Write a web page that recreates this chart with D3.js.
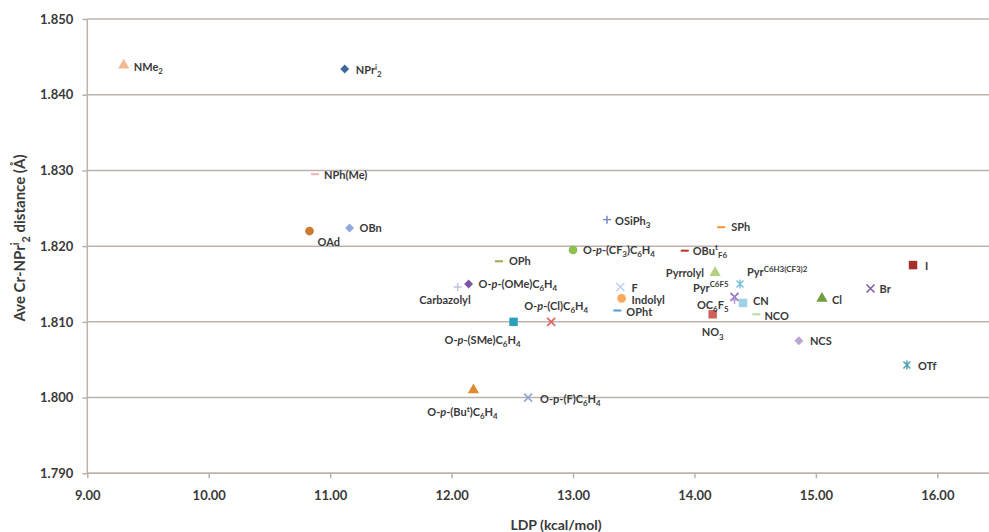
<!DOCTYPE html>
<html>
<head>
<meta charset="utf-8">
<script src="https://cdn.jsdelivr.net/npm/d3@7"></script>
<style>
html,body{margin:0;padding:0;background:#fff;}
svg{display:block;font-family:Lato,"Open Sans",sans-serif;}
</style>
</head>
<body>
<svg id="chart" width="989" height="532"></svg>
<script>
// ---- data ----
const ligands = ["NMe2","NPri2","NPh(Me)","OAd","OBn","OPh","O-p-(OMe)C6H4","Carbazolyl",
  "O-p-(Cl)C6H4","O-p-(SMe)C6H4","O-p-(CF3)C6H4","OSiPh3","SPh","OBut F6","Pyrrolyl",
  "Pyr C6H3(CF3)2","Pyr C6F5","OC6F5","CN","NO3","NCO","Cl","Br","I","F","Indolyl","OPht",
  "NCS","OTf","O-p-(F)C6H4","O-p-(But)C6H4"];
const ldp = [9.30,11.12,10.875,10.83,11.16,12.39,12.14,12.05,
  12.82,12.51,13.00,13.28,14.22,13.92,14.17,
  14.375,14.33,14.33,14.40,14.15,14.51,15.05,15.45,15.80,13.39,13.40,13.365,
  14.86,15.75,12.63,12.18];
const crN = [1.8439,1.8434,1.8295,1.8220,1.8224,1.8180,1.8150,1.8146,
  1.8100,1.8100,1.8195,1.8235,1.8225,1.8194,1.8165,
  1.8150,1.8133,1.8129,1.8125,1.8110,1.8110,1.8131,1.8144,1.8175,1.8146,1.8131,1.8115,
  1.8075,1.8043,1.8000,1.8010];
// label markup: |s:x| subscript, |u:x| superscript, |i:x| italic
const labelMarkup = ["NMe|s:2","NPr|u:i|s:2","NPh(Me)","OAd","OBn","OPh","O-|i:p|-(OMe)C|s:6|H|s:4","Carbazolyl",
  "O-|i:p|-(Cl)C|s:6|H|s:4","O-|i:p|-(SMe)C|s:6|H|s:4","O-|i:p|-(CF|s:3|)C|s:6|H|s:4","OSiPh|s:3","SPh","OBu|u:t|s:F6","Pyrrolyl",
  "Pyr|u:C6H3(CF3)2","Pyr|u:C6F5","OC|s:6|F|s:5","CN","NO|s:3","NCO","Cl","Br","I","F","Indolyl","OPht",
  "NCS","OTf","O-p-(F)C|s:6|H|s:4","O-|i:p|-(Bu|u:t|)C|s:6|H|s:4"];
const xTicks = [9,10,11,12,13,14,15,16];
const yTicks = [1.79,1.80,1.81,1.82,1.83,1.84,1.85];

// ---- styles (not data) ----
const shapes = ["tri","dia","dash","circ","dia","dash","dia","plus",
  "x","sq","circ","plus","dash","dash","tri",
  "ast","x","plus","sq","sq","dash","tri","x","sq","x","circ","dash",
  "dia","ast","x","tri"];
const colors = ["#f4b894","#41679f","#e7b5b5","#cf7a32","#8ea9da","#a8a44a","#7a55a0","#b9c3dc",
  "#e2615f","#2a9fc0","#8cc152","#6a86c4","#f2922f","#c0302e","#b3d17f",
  "#7fc1de","#9470c4","#b596d6","#9fd0e6","#d0605c","#b9d9a0","#6f9e3d","#7f5fa2","#a3302e","#bfd0ef","#f7a95e","#4f9fd3",
  "#b8a8d2","#4ba3b3","#8fa8d6","#e08a32"];
// label offsets: [dx, dy(center), anchor]
const labelPos = [[10,1.5,"start"],[11,1,"start"],[9,1,"start"],[8,11,"start"],[10,0.5,"start"],[10,0,"start"],[10,0,"start"],[13,13,"end"],
  [5,-16,"middle"],[-31,18,"middle"],[10,0,"start"],[8,1,"start"],[10,0,"start"],[8,0,"start"],[-11,0.5,"end"],
  [7,-12,"start"],[-6,-9,"end"],[-6,5,"end"],[10,-2,"start"],[0,18,"middle"],[8,2,"start"],[10,2,"start"],[9,0,"start"],[12,1,"start"],[11,1,"start"],[10,2,"start"],[9,1,"start"],
  [11,0.5,"start"],[11,0.5,"start"],[12,1.5,"start"],[-11,22,"middle"]];

const svg = d3.select("#chart");
const pLeft = 87.3, pRight = 989, pTop = 19, pBottom = 473.3;
const pxPerUnit = 121.43;
const x = d3.scaleLinear().domain([9, 9 + (pRight - pLeft) / pxPerUnit]).range([pLeft, pRight]);
const y = d3.scaleLinear().domain([1.79, 1.85]).range([pBottom, pTop]);
const gridColor = "#bdb3ae";
const textColor = "#3a3a3a";

// gridlines
svg.append("g").selectAll("line").data(yTicks).join("line")
  .attr("x1", pLeft).attr("x2", pRight)
  .attr("y1", d => y(d)).attr("y2", d => y(d))
  .attr("stroke", gridColor).attr("stroke-width", 1.5);

// y axis
const yAxis = d3.axisLeft(y).tickValues(yTicks).tickFormat(d3.format(".3f")).tickSize(5).tickPadding(9);
const gy = svg.append("g").attr("transform", `translate(${pLeft},0)`).call(yAxis);
gy.select(".domain").attr("stroke", gridColor).attr("stroke-width", 1.5).attr("d", `M0,${pTop}V${pBottom}`);
gy.selectAll(".tick line").attr("stroke", gridColor).attr("stroke-width", 1.5);
gy.selectAll(".tick text").attr("fill", textColor).attr("font-size", 13).attr("font-weight", "bold")
  .attr("font-family", "Lato, sans-serif");

// x axis
const xAxis = d3.axisBottom(x).tickValues(xTicks).tickFormat(d3.format(".2f")).tickSize(5).tickPadding(12);
const gx = svg.append("g").attr("transform", `translate(0,${pBottom})`).call(xAxis);
gx.select(".domain").attr("stroke", gridColor).attr("stroke-width", 1.5).attr("d", `M${pLeft},0H${pRight}`);
gx.selectAll(".tick line").attr("stroke", gridColor).attr("stroke-width", 1.5);
gx.selectAll(".tick text").attr("fill", textColor).attr("font-size", 13).attr("font-weight", "bold")
  .attr("font-family", "Lato, sans-serif");

// markup -> tspans
function addRich(textSel, markup, baseSize) {
  const parts = markup.split("|");
  let shift = 0;
  parts.forEach(p => {
    let kind = "n", s = p;
    if (p.startsWith("s:")) { kind = "s"; s = p.slice(2); }
    else if (p.startsWith("u:")) { kind = "u"; s = p.slice(2); }
    else if (p.startsWith("i:")) { kind = "i"; s = p.slice(2); }
    if (!s) return;
    let target = 0, size = baseSize, style = "normal";
    if (kind === "s") { target = baseSize * 0.3; size = baseSize * 0.72; }
    if (kind === "u") { target = -baseSize * 0.4; size = baseSize * 0.72; }
    if (kind === "i") { style = "italic"; }
    textSel.append("tspan").attr("dy", target - shift).attr("font-size", size)
      .attr("font-style", style).text(s);
    shift = target;
  });
}

// markers
const symGen = {
  tri: d3.symbol(d3.symbolTriangle, 55),
  dia: d3.symbol(d3.symbolSquare, 40),
  circ: d3.symbol(d3.symbolCircle, 60),
  sq: d3.symbol(d3.symbolSquare, 72)
};
const idx = d3.range(ligands.length);
const gm = svg.append("g");
idx.forEach(i => {
  const cx = x(ldp[i]), cy = y(crN[i]);
  const sh = shapes[i], c = colors[i];
  const g = gm.append("g").attr("transform", `translate(${cx},${cy})`);
  if (symGen[sh]) {
    g.append("path").attr("d", symGen[sh]()).attr("fill", c)
      .attr("transform", sh === "dia" ? "rotate(45)" : null);
  } else if (sh === "dash") {
    g.append("line").attr("x1", -4).attr("x2", 4).attr("stroke", c).attr("stroke-width", 2);
  } else if (sh === "plus") {
    g.append("path").attr("d", "M-4,0H4M0,-4V4").attr("stroke", c).attr("stroke-width", 1.4);
  } else if (sh === "x") {
    g.append("path").attr("d", "M-4,-4L4,4M-4,4L4,-4").attr("stroke", c).attr("stroke-width", 1.6);
  } else if (sh === "ast") {
    g.append("path").attr("d", "M-3.5,-3.5L3.5,3.5M-3.5,3.5L3.5,-3.5M0,-4.5V4.5").attr("stroke", c).attr("stroke-width", 1.5);
  }
});

// labels
const gl = svg.append("g");
idx.forEach(i => {
  const [dx, dy, anchor] = labelPos[i];
  const t = gl.append("text")
    .attr("x", x(ldp[i]) + dx).attr("y", y(crN[i]) + dy + 4)
    .attr("text-anchor", anchor)
    .attr("fill", textColor).attr("font-size", 11).attr("font-weight", "bold");
  addRich(t, labelMarkup[i], 11);
});

// axis titles
svg.append("text").attr("x", 556).attr("y", 530).attr("text-anchor", "middle")
  .attr("fill", textColor).attr("font-size", 14).attr("font-weight", "bold").text("LDP (kcal/mol)");
const yt = svg.append("text").attr("transform", "translate(25,238) rotate(-90)").attr("text-anchor", "middle")
  .attr("fill", textColor).attr("font-size", 15).attr("font-weight", "bold");
addRich(yt, "Ave Cr-NPr|u:i|s:2| distance (Å)", 15);
</script>
</body>
</html>
